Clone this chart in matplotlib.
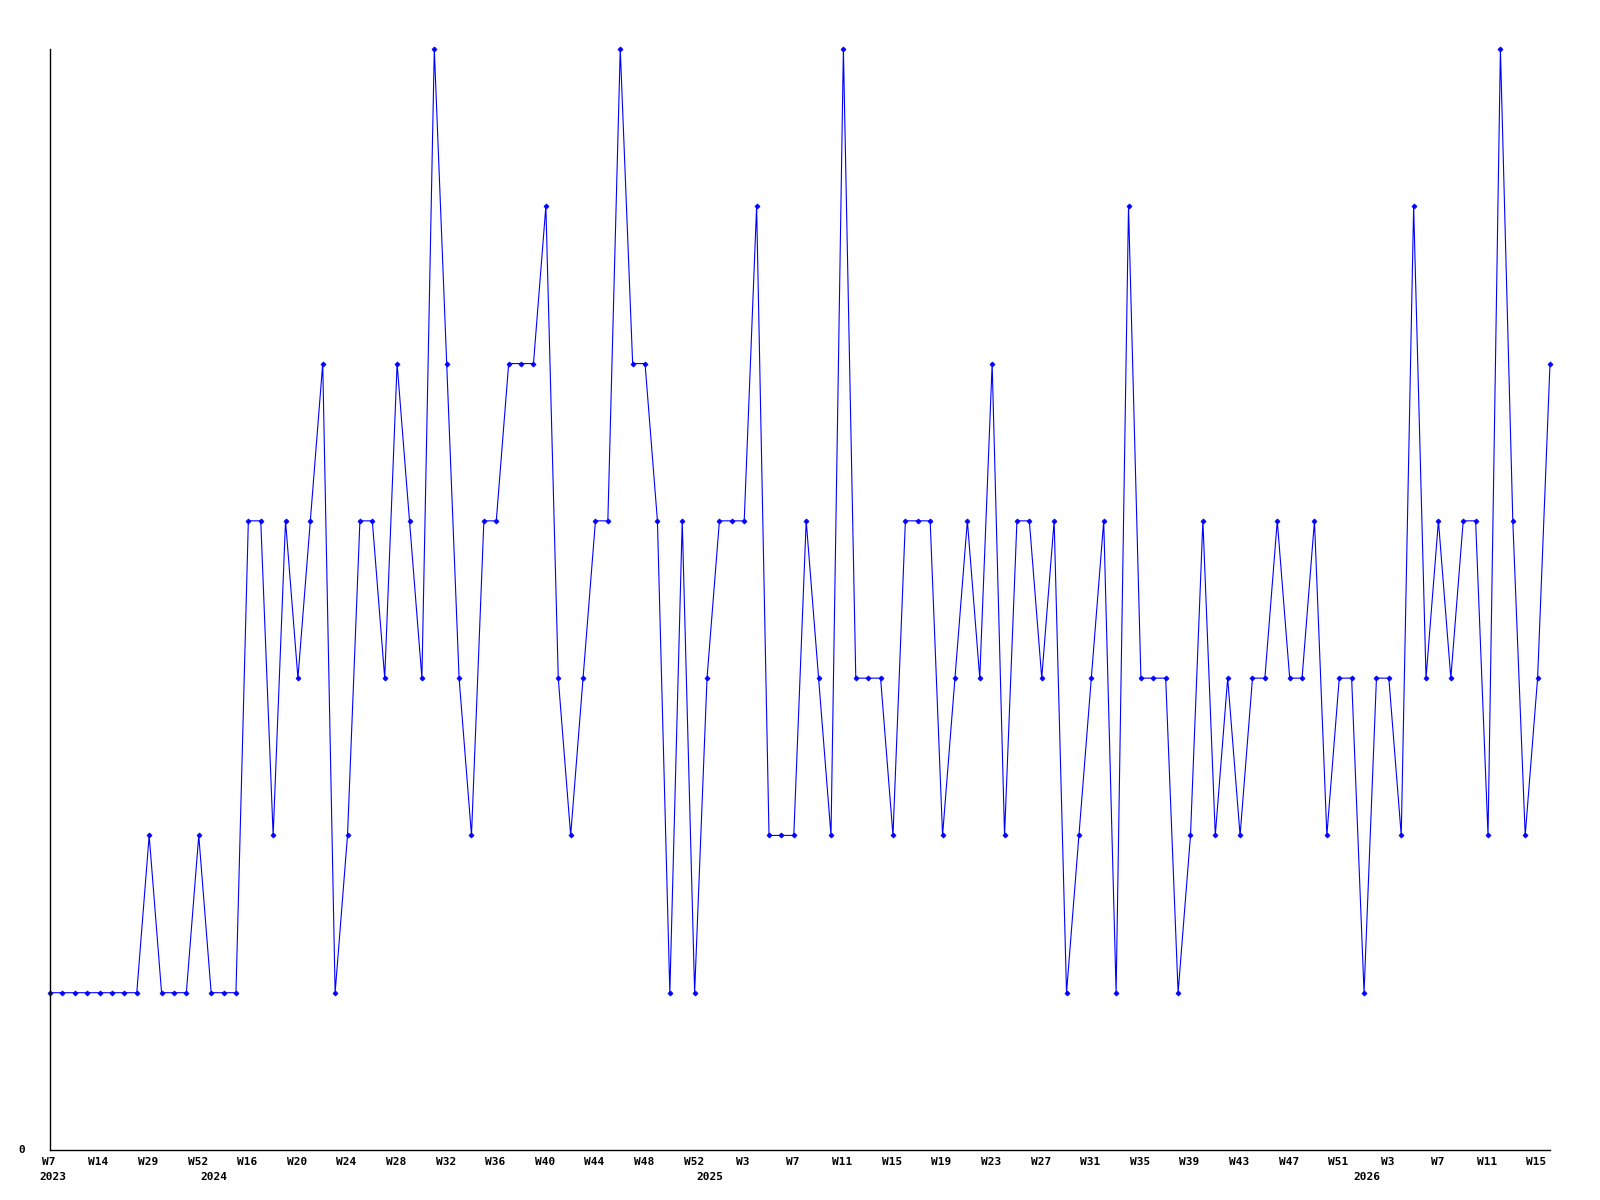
import matplotlib
matplotlib.use("Agg")
from matplotlib import pyplot as plt

# weekly counts, one entry per week that has data
counts = [
    1, 1, 1, 1, 1, 1, 1, 1, 2, 1, 1, 1, 2, 1, 1, 1,
    4, 4, 2, 4, 3, 4, 5, 1, 2, 4, 4, 3, 5, 4, 3, 7,
    5, 3, 2, 4, 4, 5, 5, 5, 6, 3, 2, 3, 4, 4, 7, 5,
    5, 4, 1, 4, 1, 3, 4, 4, 4, 6, 2, 2, 2, 4, 3, 2,
    7, 3, 3, 3, 2, 4, 4, 4, 2, 3, 4, 3, 5, 2, 4, 4,
    3, 4, 1, 2, 3, 4, 1, 6, 3, 3, 3, 1, 2, 4, 2, 3,
    2, 3, 3, 4, 3, 3, 4, 2, 3, 3, 1, 3, 3, 2, 6, 3,
    4, 3, 4, 4, 2, 7, 4, 2, 3, 5,
]

week_labels = [
    "W7", "W14", "W29", "W52", "W16", "W20", "W24", "W28", "W32", "W36",
    "W40", "W44", "W48", "W52", "W3", "W7", "W11", "W15", "W19", "W23",
    "W27", "W31", "W35", "W39", "W43", "W47", "W51", "W3", "W7", "W11", "W15",
]
week_label_step = 4

years = ["2023", "2024", "2025", "2026"]
year_start_idx = [0, 13, 53, 106]

font = dict(family="DejaVu Sans Mono", weight="bold", size=8)

fig = plt.figure(figsize=(16, 12), dpi=100)
ax = fig.add_axes([0.03125, 0.04167, 0.9375, 0.9175])

x = list(range(len(counts)))
ax.plot(x, counts, color="#0000ff", linewidth=0.8, marker="D",
        markersize=2.6, markeredgewidth=0.5, clip_on=False)

ax.set_xlim(0, len(counts) - 1)
ax.set_ylim(0, 7)

for side in ("top", "right"):
    ax.spines[side].set_visible(False)
for side in ("left", "bottom"):
    ax.spines[side].set_linewidth(1.0)
    ax.spines[side].set_color("black")

ax.set_yticks([])
ax.set_xticks([])

# week labels under the axis
for k, lab in enumerate(week_labels):
    ax.annotate(lab, xy=(k * week_label_step, 0), xycoords="data",
                xytext=(-1, -12), textcoords="offset pixels",
                ha="center", va="center", **font)

# year labels under the first week of each year
for yr, idx in zip(years, year_start_idx):
    ax.annotate(yr, xy=(idx, 0), xycoords="data",
                xytext=(-11, -27), textcoords="offset pixels",
                ha="left", va="center", **font)

ax.annotate("0", xy=(0, 0), xycoords="data", xytext=(-25, 0),
            textcoords="offset pixels", ha="right", va="center", **font)

fig.savefig("out.png", dpi=100, facecolor="white")
